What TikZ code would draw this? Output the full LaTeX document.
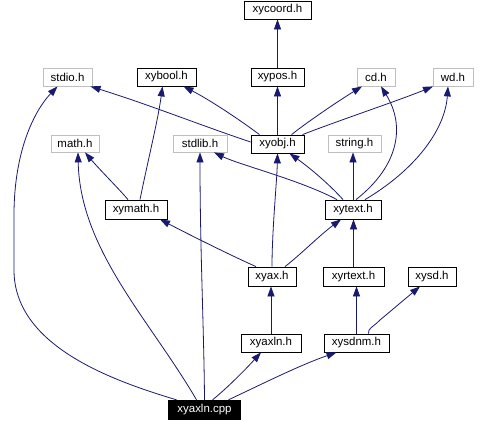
\documentclass[tikz,border=0pt]{standalone}
\usepackage{fontspec}
\setmainfont{Liberation Sans}
\usetikzlibrary{arrows.meta}
\definecolor{edgec}{HTML}{191970}
\definecolor{grayb}{HTML}{BFBFBF}
\begin{document}
\begin{tikzpicture}[x=1bp,y=-1bp,
  every node/.style={font=\fontsize{11.5}{13}\selectfont, inner sep=0pt, minimum height=18bp},
  hbox/.style={draw=black, line width=0.8bp},
  gbox/.style={draw=grayb, line width=0.8bp},
  rootbox/.style={fill=black, text=white, minimum height=20bp},
  dep/.style={draw=edgec, line width=0.8bp, -{Triangle[length=10bp,width=7bp]}}]
\useasboundingbox (0,0) rectangle (485,421);
% nodes
\node[hbox, minimum width=67bp] (xycoord) at (277.5,10) {xycoord.h};
\node[gbox, minimum width=49bp] (stdio) at (67.5,77) {stdio.h};
\node[hbox, minimum width=59bp] (xybool) at (166.5,77) {xybool.h};
\node[hbox, minimum width=53bp] (xypos) at (277.5,77) {xypos.h};
\node[gbox, minimum width=38bp] (cd) at (376,77) {cd.h};
\node[gbox, minimum width=40bp] (wd) at (453,77) {wd.h};
\node[gbox, minimum width=48bp, minimum height=17bp] (math) at (75,143.5) {math.h};
\node[gbox, minimum width=54bp, minimum height=17bp] (stdlib) at (200,143.5) {stdlib.h};
\node[hbox, minimum width=53bp] (xyobj) at (277.5,144) {xyobj.h};
\node[gbox, minimum width=53bp, minimum height=17bp] (string) at (354.5,143.5) {string.h};
\node[hbox, minimum width=62bp, minimum height=19bp] (xymath) at (136,209.5) {xymath.h};
\node[hbox, minimum width=56bp, minimum height=19bp] (xytext) at (353,209.5) {xytext.h};
\node[hbox, minimum width=48bp, minimum height=19bp] (xyax) at (272,276.5) {xyax.h};
\node[hbox, minimum width=61bp, minimum height=19bp] (xyrtext) at (353.5,276.5) {xyrtext.h};
\node[hbox, minimum width=48bp, minimum height=19bp] (xysd) at (432,276.5) {xysd.h};
\node[hbox, minimum width=60bp] (xyaxlnh) at (271,343) {xyaxln.h};
\node[hbox, minimum width=65bp] (xysdnm) at (356.5,343) {xysdnm.h};
\node[rootbox, minimum width=73bp] (cpp) at (204.5,410) {xyaxln.cpp};
% edges from xyaxln.cpp
\draw[dep] ([xshift=-28bp]cpp.north) .. controls (110,380) and (14,345) .. (14,270)
  -- (14,215) .. controls (14,150) and (35,110) .. ([xshift=-10bp]stdio.south);
\draw[dep] ([xshift=-8bp]cpp.north) .. controls (150,320) and (80,250) .. ([xshift=3bp]math.south);
\draw[dep] ([xshift=0bp]cpp.north) .. controls (204,330) and (200,250) .. (stdlib.south);
\draw[dep] ([xshift=8bp]cpp.north) .. controls (225,390) and (245,370) .. ([xshift=-10bp]xyaxlnh.south);
\draw[dep] ([xshift=24bp]cpp.north) .. controls (260,385) and (300,365) .. ([xshift=-20bp]xysdnm.south);
% middle
\draw[dep] (xyaxlnh.north) -- (xyaxlnh.north |- xyax.south);
\draw[dep] ([xshift=-16bp]xyax.north) .. controls (230,255) and (190,235) .. ([xshift=24bp]xymath.south);
\draw[dep] (xyax.north) .. controls (272,230) and (277,180) .. (xyobj.south);
\draw[dep] ([xshift=13bp]xyax.north) .. controls (300,255) and (320,235) .. ([xshift=-12bp]xytext.south);
\draw[dep] (xysdnm.north) -- (xysdnm.north |- xyrtext.south);
\draw[dep] ([xshift=12bp]xysdnm.north) .. controls (368,328) and (372,328) .. (380,320) -- ([xshift=-12bp]xysd.south);
\draw[dep] (xyrtext.north) -- (xyrtext.north |- xytext.south);
\draw[dep] ([xshift=-16bp]xytext.north) .. controls (300,180) and (240,165) .. ([xshift=14bp]stdlib.south);
\draw[dep] ([xshift=-10bp]xytext.north) .. controls (330,185) and (310,168) .. ([xshift=12bp]xyobj.south);
\draw[dep] (xytext.north) -- (xytext.north |- string.south);
\draw[dep] ([xshift=3bp]xytext.north) .. controls (400,165) and (405,125) .. ([xshift=5bp]cd.south);
\draw[dep] ([xshift=12bp]xytext.north) .. controls (415,170) and (445,130) .. ([xshift=-5bp]wd.south);
\draw[dep] ([xshift=-8bp]xymath.north) .. controls (120,190) and (100,170) .. ([xshift=10bp]math.south);
\draw[dep] ([xshift=4bp]xymath.north) .. controls (148,160) and (158,120) .. ([xshift=-4bp]xybool.south);
% top
\draw[dep] ([yshift=2bp]xyobj.west) .. controls (200,125) and (150,105) .. ([xshift=23bp]stdio.south);
\draw[dep] ([xshift=-18bp]xyobj.north) .. controls (240,120) and (210,100) .. ([xshift=17bp]xybool.south);
\draw[dep] (xyobj.north) -- (xypos.south);
\draw[dep] ([xshift=14bp]xyobj.north) .. controls (310,120) and (340,100) .. ([xshift=-14bp]cd.south);
\draw[dep] ([xshift=25bp]xyobj.north) .. controls (340,120) and (400,100) .. ([xshift=-20bp]wd.south);
\draw[dep] (xypos.north) -- (xycoord.south);
\end{tikzpicture}
\end{document}
